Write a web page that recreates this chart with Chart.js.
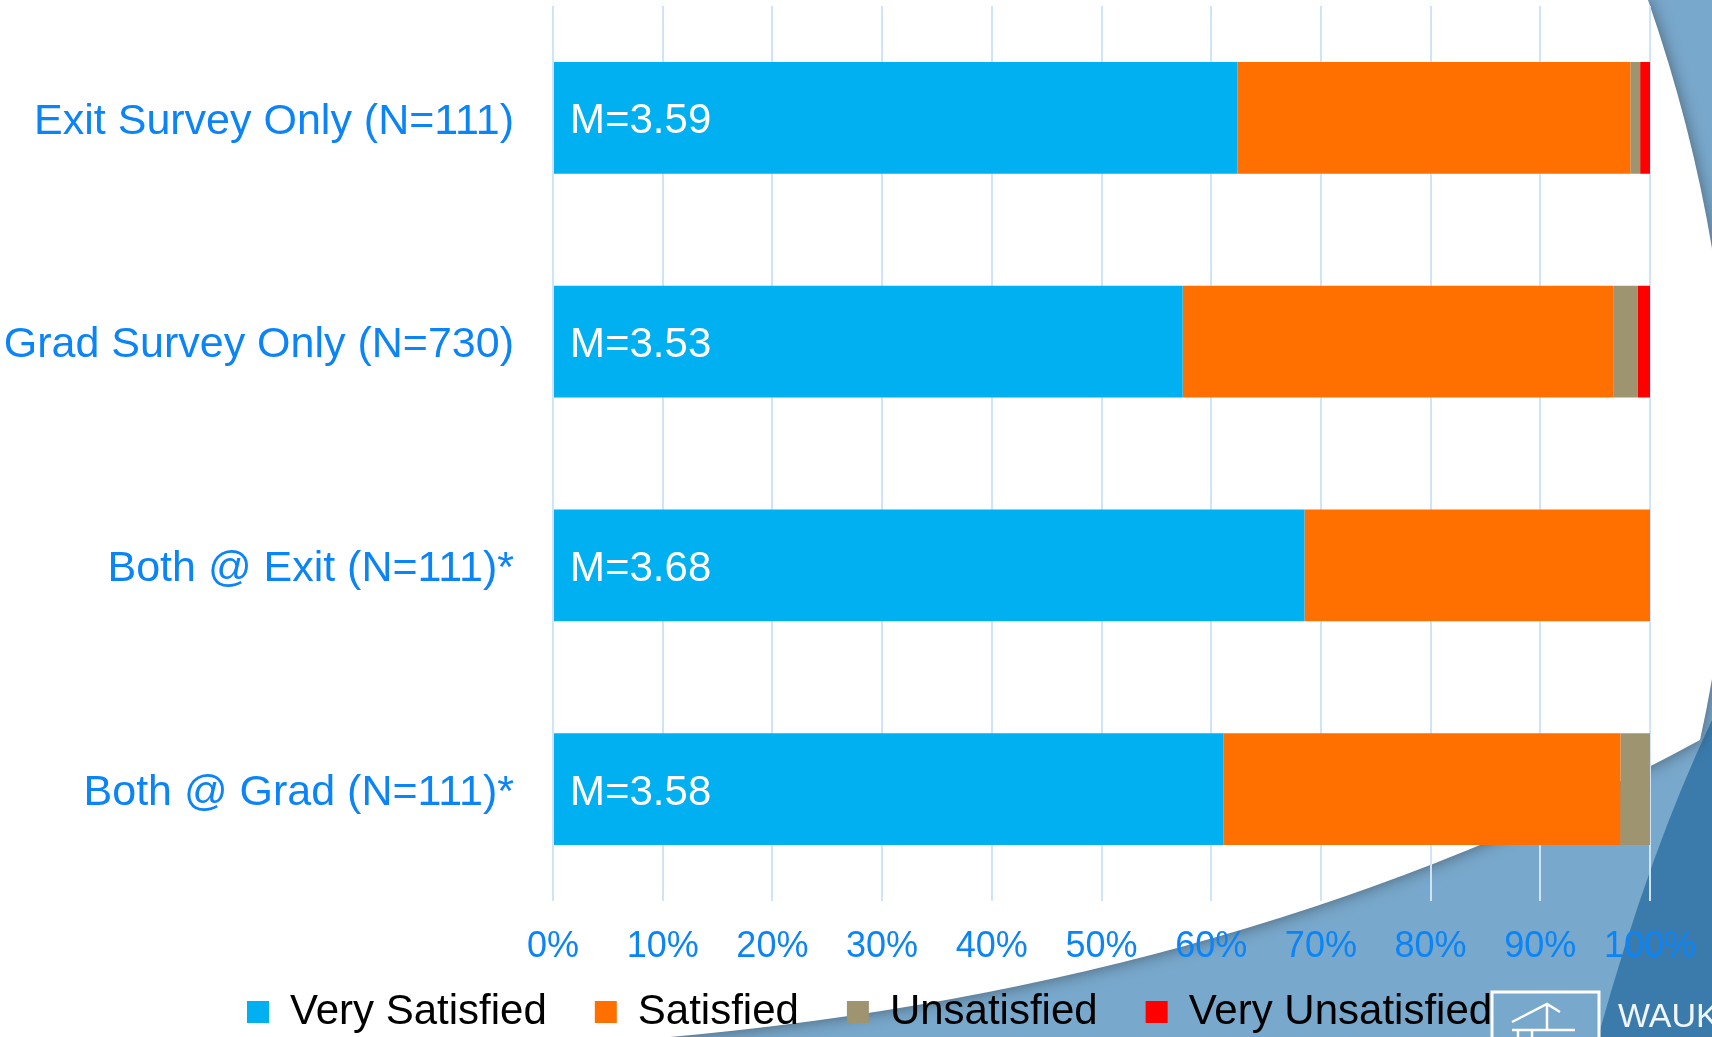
<!DOCTYPE html>
<html>
<head>
<meta charset="utf-8">
<script src="https://cdn.jsdelivr.net/npm/chart.js@4"></script>
<style>
  html, body { margin: 0; padding: 0; overflow: hidden; background: #fff; }
  #wrap { width: 1712px; height: 1037px; position: relative; }
</style>
</head>
<body>
<div id="wrap"><canvas id="satisfactionChart"></canvas></div>
<script>
const categories = ['Exit Survey Only (N=111)', 'Grad Survey Only (N=730)', 'Both @ Exit (N=111)*', 'Both @ Grad (N=111)*'];
const verySatisfied = [62.4, 57.4, 68.5, 61.1];
const satisfied = [35.8, 39.3, 31.5, 36.2];
const unsatisfied = [0.9, 2.2, 0, 2.7];
const veryUnsatisfied = [0.9, 1.1, 0, 0];
const means = ['3.59', '3.53', '3.68', '3.58'];

const FONT = "'Liberation Sans', Arial, sans-serif";
const BLUE_TEXT = '#0b84f8';

// slide background: white page with the blue swoosh at the right and bottom
const slideBackground = {
  id: 'slideBackground',
  beforeDraw(chart) {
    const ctx = chart.ctx;
    const w = chart.width, h = chart.height;
    ctx.save();
    ctx.fillStyle = '#78a8cc';
    ctx.fillRect(0, 0, w, h);

    ctx.fillStyle = '#3a7bac';
    ctx.beginPath();
    ctx.moveTo(w, 720);
    ctx.quadraticCurveTo(1650, 850, 1598, h);
    ctx.lineTo(w, h);
    ctx.closePath();
    ctx.fill();

    ctx.shadowColor = 'rgba(40,40,40,0.55)';
    ctx.shadowBlur = 16;
    ctx.fillStyle = '#ffffff';
    ctx.beginPath();
    ctx.moveTo(0, 0);
    ctx.lineTo(1648, 0);
    ctx.quadraticCurveTo(1780, 380, 1700, 740);
    ctx.quadraticCurveTo(1250, 985, 670, h);
    ctx.lineTo(0, h);
    ctx.closePath();
    ctx.fill();
    ctx.restore();

    // cropped college logo
    ctx.save();
    ctx.strokeStyle = '#ffffff';
    ctx.lineWidth = 3;
    ctx.strokeRect(1492, 992, 107, 60);
    ctx.lineWidth = 2.5;
    ctx.beginPath();
    ctx.moveTo(1512, 1022);
    ctx.lineTo(1547, 1004);
    ctx.lineTo(1560, 1012);
    ctx.moveTo(1547, 1004);
    ctx.lineTo(1547, 1030);
    ctx.moveTo(1512, 1030);
    ctx.lineTo(1575, 1030);
    ctx.moveTo(1518, 1030);
    ctx.lineTo(1518, 1037);
    ctx.moveTo(1532, 1030);
    ctx.lineTo(1532, 1037);
    ctx.stroke();
    ctx.fillStyle = 'rgba(255,255,255,0.92)';
    ctx.font = '34px ' + FONT;
    ctx.textBaseline = 'alphabetic';
    ctx.fillText('WAUK', 1618, 1027);
    ctx.restore();
  }
};

// nudge the legend to start under the labels, and give the x tick labels room below the axis box
const placeLegend = {
  id: 'placeLegend',
  afterLayout(chart) {
    chart.legend.left = 199;
    const x = chart.scales.x;
    x.bottom = x.top + 80;
    x.height = 80;
  }
};

// "M=x.xx" labels inside the Very Satisfied bars
const meanLabels = {
  id: 'meanLabels',
  afterDatasetsDraw(chart) {
    const ctx = chart.ctx;
    const meta = chart.getDatasetMeta(0);
    ctx.save();
    ctx.font = '42px ' + FONT;
    ctx.fillStyle = '#ffffff';
    ctx.textAlign = 'left';
    ctx.textBaseline = 'middle';
    meta.data.forEach((bar, i) => {
      ctx.fillText('M=' + means[i], bar.base + 16, bar.y + 4);
    });
    ctx.restore();
  }
};

new Chart(document.getElementById('satisfactionChart').getContext('2d'), {
  type: 'bar',
  data: {
    labels: categories,
    datasets: [
      { label: 'Very Satisfied', data: verySatisfied, backgroundColor: '#00b0f0' },
      { label: 'Satisfied', data: satisfied, backgroundColor: '#ff7000' },
      { label: 'Unsatisfied', data: unsatisfied, backgroundColor: '#9e9470' },
      { label: 'Very Unsatisfied', data: veryUnsatisfied, backgroundColor: '#ff0000' }
    ]
  },
  options: {
    indexAxis: 'y',
    responsive: true,
    maintainAspectRatio: false,
    animation: false,
    barPercentage: 0.5,
    categoryPercentage: 1,
    layout: { padding: { left: 0, right: 62, top: 6, bottom: -6 } },
    plugins: {
      tooltip: { enabled: false },
      legend: {
        position: 'bottom',
        align: 'start',
        labels: {
          font: { family: FONT, size: 42 },
          color: '#000000',
          boxWidth: 22,
          boxHeight: 22,
          padding: 48
        }
      }
    },
    scales: {
      x: {
        type: 'linear',
        stacked: true,
        min: 0,
        max: 100,
        ticks: {
          stepSize: 10,
          callback: v => v + '%',
          font: { family: FONT, size: 36 },
          color: BLUE_TEXT,
          padding: 24,
          maxRotation: 0
        },
        grid: { color: '#cfe4fb', lineWidth: 2, drawTicks: false },
        border: { display: false },
        afterFit(scale) {
          scale.height = 42;
          scale.paddingLeft = 0;
          scale.paddingRight = 0;
        }
      },
      y: {
        stacked: true,
        grid: { display: false, drawTicks: false },
        border: { display: false },
        ticks: {
          font: { family: FONT, size: 43 },
          color: BLUE_TEXT,
          padding: 39,
          labelOffset: 4
        },
        afterFit(scale) {
          scale.width = 553;
          scale.paddingTop = 0;
          scale.paddingBottom = 0;
        }
      }
    }
  },
  plugins: [slideBackground, placeLegend, meanLabels]
});
</script>
</body>
</html>
